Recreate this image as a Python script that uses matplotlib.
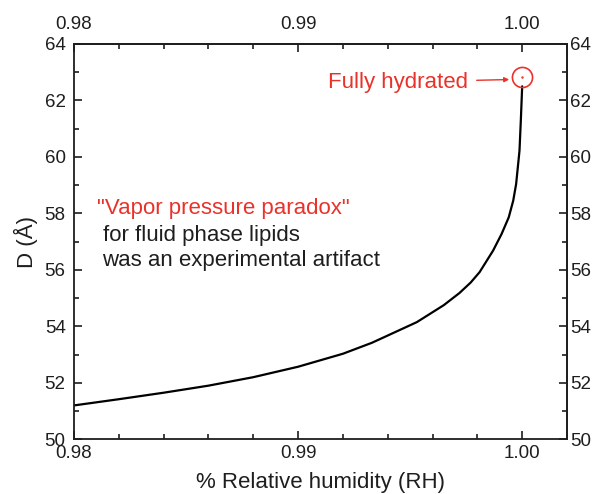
import numpy as np
import matplotlib.pyplot as plt
from matplotlib.ticker import MultipleLocator, FormatStrFormatter

plt.rcParams['font.family'] = ['Liberation Sans', 'DejaVu Sans']

# Repeat spacing vs relative humidity
rh = [0.980, 0.982, 0.984, 0.986, 0.988, 0.990, 0.992, 0.9933, 0.9953,
      0.9965, 0.9972, 0.9977, 0.9981, 0.9987, 0.99908, 0.9994, 0.9996,
      0.99973, 0.99988, 0.99994, 1.0]
d_spacing = [51.20, 51.42, 51.65, 51.90, 52.20, 52.57, 53.03, 53.42, 54.15,
             54.75, 55.18, 55.55, 55.92, 56.68, 57.27, 57.86, 58.45,
             59.04, 60.22, 61.30, 62.50]

full_rh = 1.0
full_d = 62.82

xticks = [0.98, 0.99, 1.00]
yticks = [50, 52, 54, 56, 58, 60, 62, 64]

ink = '#1e1e1e'
red = '#e8322a'

fig = plt.figure(figsize=(6.0, 4.94), dpi=100)
ax = fig.add_axes([0.1233, 0.1107, 0.8217, 0.8003])

ax.plot(rh, d_spacing, color='black', lw=1.6, solid_capstyle='round',
        solid_joinstyle='round')
ax.plot([full_rh], [full_d], 'o', ms=14.5, mfc='none', mec=red, mew=1.2)
ax.plot([full_rh], [full_d], '.', ms=1.5, color=red)

ax.set_xlim(0.98, 1.002)
ax.set_ylim(50, 64)
ax.set_xticks(xticks)
ax.set_yticks(yticks)
ax.xaxis.set_minor_locator(MultipleLocator(0.002))
ax.yaxis.set_minor_locator(MultipleLocator(1))
ax.xaxis.set_major_formatter(FormatStrFormatter('%.2f'))
ax.tick_params(which='both', direction='in', top=False, right=False,
               width=1.2, labelsize=13.5, colors=ink)
ax.tick_params(axis='x', pad=4)
ax.tick_params(axis='y', pad=6)

# mirrored scales on top and right
top = ax.secondary_xaxis('top')
top.set_xticks(xticks)
top.xaxis.set_minor_locator(MultipleLocator(0.002))
top.xaxis.set_major_formatter(FormatStrFormatter('%.2f'))
top.tick_params(which='both', direction='in', width=1.2, labelsize=13.5,
                colors=ink, pad=8)
right = ax.secondary_yaxis('right')
right.set_yticks(yticks)
right.yaxis.set_minor_locator(MultipleLocator(1))
right.tick_params(which='both', direction='in', width=1.2, labelsize=13.5,
                  colors=ink, pad=2)

for a in (ax, top, right):
    a.tick_params(which='major', length=5.5)
    a.tick_params(which='minor', length=3.5)
    for s in a.spines.values():
        s.set_linewidth(1.3)
        s.set_color(ink)

ax.set_xlabel('% Relative humidity (RH)', fontsize=16, color=ink,
              labelpad=7)
ax.set_ylabel('D (Å)', fontsize=16, color=ink, labelpad=5)

ax.annotate('Fully hydrated', xy=(0.99942, 62.74),
            xytext=(0.99760, 62.65), ha='right', va='center',
            fontsize=16, color=red,
            arrowprops=dict(arrowstyle='-|>', color=red, lw=1.0,
                            mutation_scale=7, shrinkA=4, shrinkB=0))

ax.text(0.98102, 57.98, '"Vapor pressure paradox"', fontsize=16,
        color=red, va='baseline', ha='left')
ax.text(0.98128, 57.03, 'for fluid phase lipids', fontsize=16,
        color=ink, va='baseline', ha='left')
ax.text(0.98123, 56.15, 'was an experimental artifact', fontsize=16,
        color=ink, va='baseline', ha='left')

fig.savefig('out.png', dpi=100)
